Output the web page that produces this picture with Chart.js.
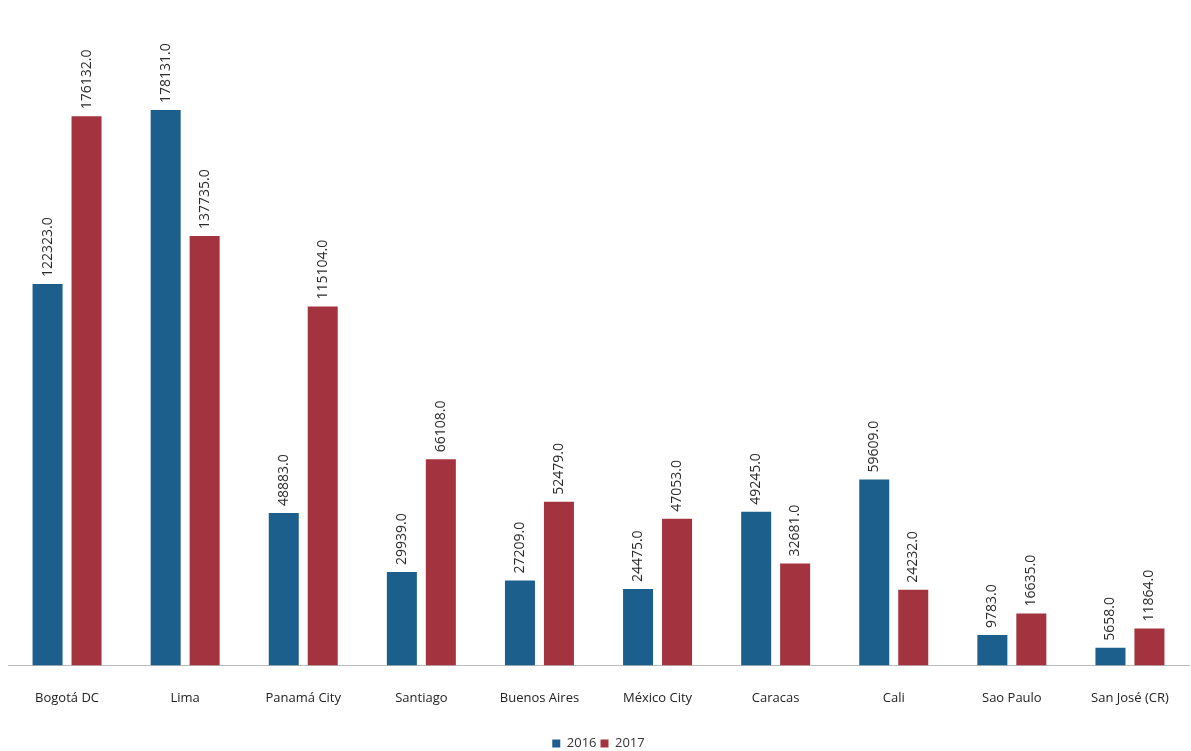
<!DOCTYPE html>
<html>
<head>
<meta charset="utf-8">
<script src="https://cdn.jsdelivr.net/npm/chart.js@4/dist/chart.umd.min.js"></script>
<style>
  html, body { margin: 0; padding: 0; background: #fff; }
  #wrap { width: 1191px; height: 751px; }
</style>
</head>
<body>
<div id="wrap"><canvas id="chart" width="1191" height="751"></canvas></div>
<script>
const cities = ['Bogotá DC', 'Lima', 'Panamá City', 'Santiago', 'Buenos Aires', 'México City', 'Caracas', 'Cali', 'Sao Paulo', 'San José (CR)']
const values2016 = [122323, 178131, 48883, 29939, 27209, 24475, 49245, 59609, 9783, 5658]
const values2017 = [176132, 137735, 115104, 66108, 52479, 47053, 32681, 24232, 16635, 11864]

// rotated value labels above each bar
const barLabels = {
  id: 'barLabels',
  afterDatasetsDraw(chart) {
    const ctx = chart.ctx
    chart.data.datasets.forEach((ds, i) => {
      chart.getDatasetMeta(i).data.forEach((bar, j) => {
        ctx.save()
        ctx.translate(bar.x, bar.y - 7)
        ctx.rotate(-Math.PI / 2)
        ctx.font = '14px "Open Sans"'
        ctx.fillStyle = '#2a2a2a'
        ctx.textAlign = 'left'
        ctx.textBaseline = 'middle'
        ctx.fillText(ds.data[j].toFixed(1), 0, 0)
        ctx.restore()
      })
    })
  }
}

new Chart(document.getElementById('chart'), {
  type: 'bar',
  data: {
    labels: cities,
    datasets: [
      { label: '2016', data: values2016, backgroundColor: '#1d5f8c' },
      { label: '2017', data: values2017, backgroundColor: '#a3343f' }
    ]
  },
  options: {
    responsive: false,
    animation: false,
    layout: { padding: { top: 73, left: 8, right: 2, bottom: -9 } },
    datasets: { bar: { categoryPercentage: 0.66, barPercentage: 0.77 } },
    plugins: {
      legend: {
        position: 'bottom',
        labels: { boxWidth: 8, boxHeight: 8, font: { size: 13, family: 'Open Sans' }, color: '#333', padding: 4 }
      },
      tooltip: { enabled: false }
    },
    scales: {
      x: {
        grid: { display: false },
        border: { color: '#bbb' },
        ticks: { color: '#222', font: { size: 13, family: 'Open Sans' }, maxRotation: 0, padding: 17 },
        afterFit(scale) { scale.height += 10 }
      },
      y: { display: false, min: 0, max: 190000 }
    }
  },
  plugins: [barLabels]
})
</script>
</body>
</html>
